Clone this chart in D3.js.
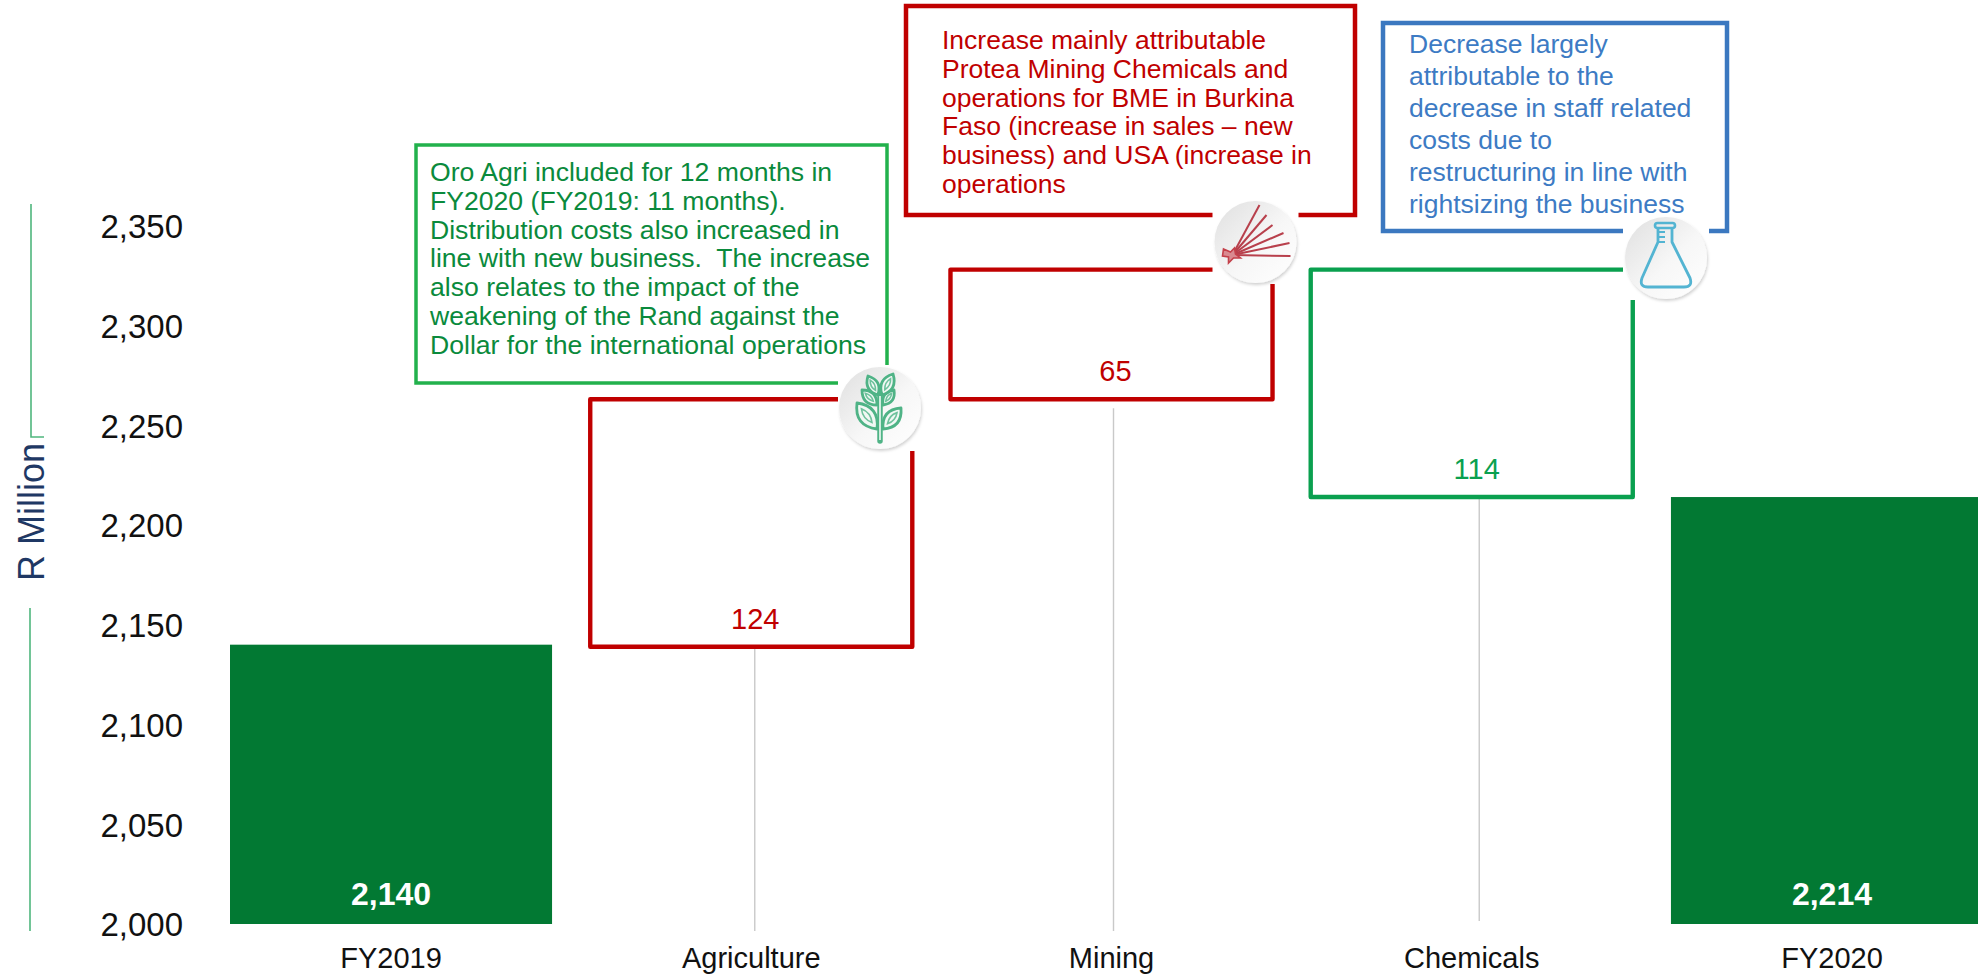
<!DOCTYPE html>
<html>
<head>
<meta charset="utf-8">
<script src="https://cdn.jsdelivr.net/npm/d3@7/dist/d3.min.js"></script>
<style>
  html, body { margin: 0; padding: 0; background: #fff; overflow: hidden; }
  svg { display: block; font-family: "Liberation Sans", Arial, sans-serif; }
  .domain { display: none; }
</style>
</head>
<body>
<svg id="chart" width="1978" height="975"></svg>
<script>
// Operating cost bridge, FY2019 to FY2020 (R million)
const categories = ["FY2019", "Agriculture", "Mining", "Chemicals", "FY2020"];
const totals = [2140, null, null, null, 2214];
const deltas = [null, 124, 65, 114, null];
const frameBase = [null, 2139, 2263, 2214, null];
const yTicks = [2000, 2050, 2100, 2150, 2200, 2250, 2300, 2350];
const frameColors = [null, "#c00000", "#c00000", "#0aa04f", null];

const agriNote = [
  "Oro Agri included for 12 months in",
  "FY2020 (FY2019: 11 months).",
  "Distribution costs also increased in",
  "line with new business.  The increase",
  "also relates to the impact of the",
  "weakening of the Rand against the",
  "Dollar for the international operations"
];
const miningNote = [
  "Increase mainly attributable",
  "Protea Mining Chemicals and",
  "operations for BME in Burkina",
  "Faso (increase in sales – new",
  "business) and USA (increase in",
  "operations"
];
const chemNote = [
  "Decrease largely",
  "attributable to the",
  "decrease in staff related",
  "costs due to",
  "restructuring in line with",
  "rightsizing the business"
];

const svg = d3.select("#chart");
const x = d3.scaleBand().domain(categories).range([230, 1993]).paddingInner(0.106);
const y = d3.scaleLinear().domain([2000, 2350]).range([924, 225.7]);
const fmt = d3.format(",");
const rows = categories.map((c, i) => ({
  c, total: totals[i], delta: deltas[i], base: frameBase[i], color: frameColors[i]
}));
const centre = d => x(d.c) + x.bandwidth() / 2;

// Leader lines and value labels sit slightly off the band centre
const leaderShift = { Agriculture: 3.5, Mining: 2, Chemicals: 7.5 };
const labelShift = { Agriculture: 4, Mining: 4, Chemicals: 5 };

// Vertical axis title with its split rule
const axisRule = "#4fb67d";
svg.append("path").attr("d", "M31,204V437H44").attr("fill", "none")
  .attr("stroke", axisRule).attr("stroke-width", 1.6);
svg.append("path").attr("d", "M30,608V931").attr("fill", "none")
  .attr("stroke", axisRule).attr("stroke-width", 1.6);
svg.append("text").attr("transform", "translate(44,581) rotate(-90)")
  .attr("font-size", 36).attr("fill", "#1f3864").text("R Million");

// Axes
svg.append("g").attr("transform", "translate(183,0)")
  .call(d3.axisLeft(y).tickValues(yTicks).tickFormat(fmt).tickSize(0).tickPadding(0))
  .call(g => g.selectAll("text").attr("font-family", "inherit").attr("font-size", 33).attr("fill", "#111").attr("dy", "0.36em"));
svg.append("g").attr("transform", "translate(0,924)")
  .call(d3.axisBottom(x).tickSize(0).tickPadding(0))
  .call(g => g.selectAll("text").attr("font-family", "inherit").attr("font-size", 29).attr("fill", "#111").attr("dy", 0).attr("y", 44));

// Commentary box backgrounds and outlines
const notes = [
  { x: 416, y: 145, w: 471, h: 238, stroke: "#22b14c", sw: 3.5, tx: 430, ty: 181, lh: 28.8, fs: 26.6, fill: "#0a8a3c", lines: agriNote },
  { x: 906, y: 6, w: 449, h: 209, stroke: "#c00000", sw: 4.5, tx: 942, ty: 49, lh: 28.8, fs: 26.5, fill: "#c00000", lines: miningNote },
  { x: 1383, y: 23, w: 344, h: 208, stroke: "#3b78c0", sw: 4.5, tx: 1409, ty: 53, lh: 32, fs: 26.5, fill: "#3d7bc4", lines: chemNote }
];
svg.selectAll(".noteBox").data(notes).join("rect").attr("class", "noteBox")
  .attr("x", b => b.x).attr("y", b => b.y).attr("width", b => b.w).attr("height", b => b.h)
  .attr("fill", "#fff").attr("stroke", b => b.stroke).attr("stroke-width", b => b.sw);

// Leader lines beneath the delta frames
const stepRows = rows.filter(d => d.delta !== null);
svg.selectAll(".leader").data(stepRows).join("line").attr("class", "leader")
  .attr("x1", d => centre(d) + leaderShift[d.c]).attr("x2", d => centre(d) + leaderShift[d.c])
  .attr("y1", d => y(d.base) + (d.c === "Mining" ? 9 : 0))
  .attr("y2", d => y(2000) + (d.c === "Chemicals" ? -3 : 7))
  .attr("stroke", "#c9c9c9").attr("stroke-width", 1.4);

// Total bars
const totalRows = rows.filter(d => d.total !== null);
svg.selectAll(".bar").data(totalRows).join("rect").attr("class", "bar")
  .attr("x", d => x(d.c)).attr("width", x.bandwidth())
  .attr("y", d => y(d.total)).attr("height", d => y(2000) - y(d.total))
  .attr("fill", "#027933");
svg.selectAll(".barLabel").data(totalRows).join("text").attr("class", "barLabel")
  .attr("x", centre).attr("y", y(2000) - 19)
  .attr("text-anchor", "middle").attr("font-size", 32).attr("font-weight", "bold")
  .attr("fill", "#fff").text(d => fmt(d.total));

// Delta frames
svg.selectAll(".frame").data(stepRows).join("rect").attr("class", "frame")
  .attr("x", d => x(d.c)).attr("width", x.bandwidth())
  .attr("y", d => y(d.base + d.delta)).attr("height", d => y(d.base) - y(d.base + d.delta))
  .attr("fill", "none").attr("stroke", d => d.color).attr("stroke-width", 4.4)
  .attr("stroke-linejoin", "round");
svg.selectAll(".frameLabel").data(stepRows).join("text").attr("class", "frameLabel")
  .attr("x", d => centre(d) + labelShift[d.c]).attr("y", d => y(d.base) - 18)
  .attr("text-anchor", "middle").attr("font-size", 29).attr("fill", d => d.color)
  .text(d => d.delta);

// Segment badges
const defs = svg.append("defs");
const grad = defs.append("linearGradient").attr("id", "badgeFill")
  .attr("x1", "0%").attr("y1", "0%").attr("x2", "100%").attr("y2", "100%");
grad.append("stop").attr("offset", "0%").attr("stop-color", "#dfdfdf");
grad.append("stop").attr("offset", "55%").attr("stop-color", "#f7f7f7");
grad.append("stop").attr("offset", "100%").attr("stop-color", "#ffffff");
const shadow = defs.append("filter").attr("id", "badgeShadow")
  .attr("x", "-20%").attr("y", "-20%").attr("width", "140%").attr("height", "140%");
shadow.append("feDropShadow").attr("dx", 1).attr("dy", 2).attr("stdDeviation", 1.5)
  .attr("flood-color", "#000").attr("flood-opacity", 0.18);

function badge(cx, cy, hw, hh) {
  svg.append("rect").attr("x", cx - hw).attr("y", cy - hh).attr("width", hw * 2).attr("height", hh * 2).attr("fill", "#fff");
  const g = svg.append("g").attr("transform", `translate(${cx},${cy})`);
  g.append("circle").attr("r", 41).attr("fill", "url(#badgeFill)").attr("filter", "url(#badgeShadow)");
  return g;
}

// Plant
const leaf = (bx, by, tx, ty, k) => {
  const mx = (bx + tx) / 2, my = (by + ty) / 2, nx = -(ty - by) * k, ny = (tx - bx) * k;
  return `M${bx},${by}Q${mx + nx},${my + ny} ${tx},${ty}Q${mx - nx},${my - ny} ${bx},${by}Z`;
};
const plant = badge(880, 408, 42, 43);
const plantLeaves = [[-3, 21, -23, -5], [3, 21, 21, 0], [-3, -3, -18, -18], [3, -3, 14, -18], [-2, -13, -12, -32], [2, -13, 13, -34]];
plant.selectAll(".leaf").data(plantLeaves).join("path").attr("class", "leaf")
  .attr("d", d => leaf(d[0], d[1], d[2], d[3], 0.5)).attr("fill", "#f1f8f4").attr("stroke", "#4fb386").attr("stroke-width", 2.8).attr("stroke-linejoin", "round");
plant.selectAll(".vein").data(plantLeaves).join("path").attr("class", "vein")
  .attr("d", d => leaf(d[0] + (d[2] - d[0]) * 0.25, d[1] + (d[3] - d[1]) * 0.25, d[0] + (d[2] - d[0]) * 0.78, d[1] + (d[3] - d[1]) * 0.78, 0.3))
  .attr("fill", "none").attr("stroke", "#6fc29d").attr("stroke-width", 1.6);
plant.append("path").attr("d", "M0,33V-14").attr("stroke", "#4fb386").attr("stroke-width", 5.5).attr("stroke-linecap", "round").attr("fill", "none");
plant.append("path").attr("d", "M0,32V-12").attr("stroke", "#dff2e8").attr("stroke-width", 1.8).attr("fill", "none");

// Blast fan
const blast = badge(1255.5, 242, 43, 42);
const rays = [[4, -37], [11, -27], [17, -17], [28, -9], [34, 1], [35, 14]];
blast.selectAll(".ray").data(rays).join("line").attr("class", "ray")
  .attr("x1", -23).attr("y1", 13).attr("x2", d => d[0]).attr("y2", d => d[1])
  .attr("stroke", "#b8404c").attr("stroke-width", 2);
blast.append("path").attr("d", "M-32,7L-25,10L-21,6L-20,12L-15,16L-22,16L-27,21L-27,15L-33,14Z")
  .attr("fill", "#d98a90").attr("stroke", "#c4404a").attr("stroke-width", 1.6);

// Flask
const flask = badge(1666, 258, 43, 42);
flask.append("path").attr("d", "M-8,-30V-16L-24,20Q-27,29 -18,29H18Q27,29 24,20L6,-16V-30")
  .attr("fill", "none").attr("stroke", "#53b4d2").attr("stroke-width", 2.8).attr("stroke-linejoin", "round");
flask.append("rect").attr("x", -11).attr("y", -35).attr("width", 20).attr("height", 5).attr("rx", 2.5)
  .attr("fill", "none").attr("stroke", "#53b4d2").attr("stroke-width", 2.6);
flask.append("path").attr("d", "M-8,-26H-1M-8,-21H-1M-8,-16H-1").attr("stroke", "#53b4d2").attr("stroke-width", 1.8);

// Commentary text goes on last so it is never clipped by a badge
notes.forEach(b => {
  svg.append("g").selectAll("text").data(b.lines).join("text")
    .attr("x", b.tx).attr("y", (d, i) => b.ty + i * b.lh)
    .attr("font-size", b.fs).attr("fill", b.fill)
    .style("white-space", "pre").text(d => d);
});
</script>
</body>
</html>
